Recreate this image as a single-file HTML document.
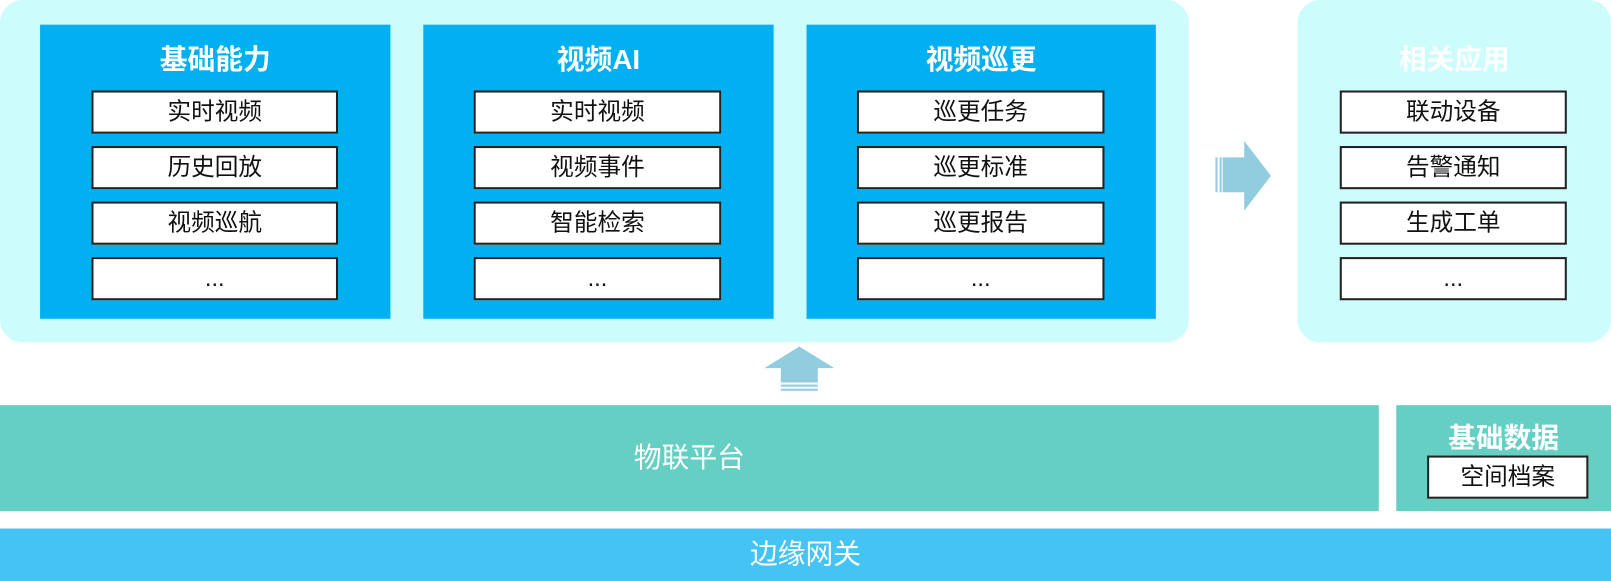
<!DOCTYPE html>
<html><head><meta charset="utf-8"><style>
body{margin:0;width:1611px;height:581px;overflow:hidden;background:#fff;font-family:"Liberation Sans","Noto Sans CJK SC",sans-serif}
#w{position:absolute;left:0;top:0;width:1568px;height:565px;transform:scale(1.02742,1.0283);transform-origin:0 0}
.a{position:absolute;box-sizing:border-box}
.panel{background:#ccfcfc;border-radius:22px}
.blue{background:#00b0f0}
.t{position:absolute;left:0;right:0;text-align:center;color:#fff;font-weight:bold;font-size:27px}
.it{position:absolute;background:#fff;border:2px solid #222;box-sizing:border-box;text-align:center;font-size:23px;line-height:37px;color:#111}
</style></head><body><div id="w">
<div class="a panel" style="left:0;top:0;width:1157px;height:333px"></div>
<div class="a panel" style="left:1263px;top:0;width:305px;height:333px"></div>

<div class="a blue" style="left:39px;top:24px;width:341px;height:286px">
<div class="t" style="top:12px">基础能力</div>
<div class="it" style="left:50px;top:64px;width:240px;height:42px">实时视频</div>
<div class="it" style="left:50px;top:118px;width:240px;height:42px">历史回放</div>
<div class="it" style="left:50px;top:172px;width:240px;height:42px">视频巡航</div>
<div class="it" style="left:50px;top:226px;width:240px;height:42px">...</div>
</div>
<div class="a blue" style="left:412px;top:24px;width:341px;height:286px">
<div class="t" style="top:12px">视频AI</div>
<div class="it" style="left:49px;top:64px;width:241px;height:42px">实时视频</div>
<div class="it" style="left:49px;top:118px;width:241px;height:42px">视频事件</div>
<div class="it" style="left:49px;top:172px;width:241px;height:42px">智能检索</div>
<div class="it" style="left:49px;top:226px;width:241px;height:42px">...</div>
</div>
<div class="a blue" style="left:785px;top:24px;width:340px;height:286px">
<div class="t" style="top:12px">视频巡更</div>
<div class="it" style="left:49px;top:64px;width:241px;height:42px">巡更任务</div>
<div class="it" style="left:49px;top:118px;width:241px;height:42px">巡更标准</div>
<div class="it" style="left:49px;top:172px;width:241px;height:42px">巡更报告</div>
<div class="it" style="left:49px;top:226px;width:241px;height:42px">...</div>
</div>

<div class="t" style="left:1263px;width:305px;top:36px">相关应用</div>
<div class="it" style="left:1304px;top:88px;width:221px;height:42px">联动设备</div>
<div class="it" style="left:1304px;top:142px;width:221px;height:42px">告警通知</div>
<div class="it" style="left:1304px;top:196px;width:221px;height:42px">生成工单</div>
<div class="it" style="left:1304px;top:250px;width:221px;height:42px">...</div>

<svg class="a" style="left:0;top:0" width="1568" height="565">
<g fill="#92cddf">
<rect x="1183" y="153" width="2" height="34"/><rect x="1187" y="153" width="2" height="34"/>
<polygon points="1190,153 1211,153 1211,137 1237,171 1211,205 1211,187 1190,187"/>
<polygon points="744,358 778,337 812,358 796,358 796,372 760,372 760,358"/>
<rect x="760" y="374" width="36" height="2"/><rect x="760" y="378" width="36" height="2"/>
</g></svg>

<div class="a" style="left:0;top:394px;width:1342px;height:103px;background:#66cfc4;color:#fff;font-size:27px;text-align:center;line-height:103px">物联平台</div>
<div class="a" style="left:1359px;top:394px;width:209px;height:103px;background:#66cfc4">
<div class="t" style="top:10px">基础数据</div>
<div class="it" style="left:30px;top:49px;width:157px;height:42px">空间档案</div>
</div>
<div class="a" style="left:0;top:514px;width:1568px;height:51px;background:#44c4f4;color:#fff;font-size:27px;text-align:center;line-height:51px">边缘网关</div>
</div></body></html>
